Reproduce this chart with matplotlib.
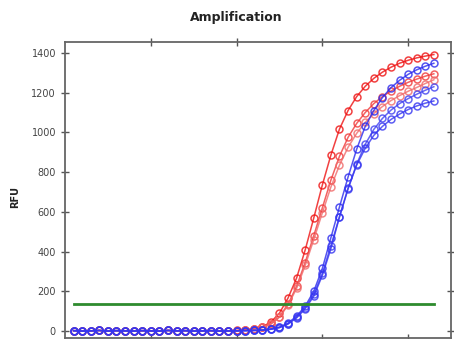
import numpy as np
import matplotlib
matplotlib.use("Agg")
import matplotlib.pyplot as plt

# --------------------------------------------
# DATA
# --------------------------------------------
cycles = np.arange(1, 44)

base = [2, 0, 1, 3, 0, 2, 1, 0, 2, 1, 0, 3, 1, 2, 0, 1, 2, 0, 1]  # cycles 1..19

red_a = base + [3, 6, 12, 22, 45, 90, 166, 267, 408, 569, 735, 886, 1017,
                1110, 1180, 1232, 1272, 1303, 1328, 1348, 1363, 1375, 1384, 1392]
red_b = base + [2, 5, 10, 18, 36, 72, 135, 225, 345, 480, 620, 760, 880,
                975, 1045, 1100, 1145, 1180, 1208, 1232, 1252, 1268, 1283, 1295]
red_c = base + [2, 5, 10, 18, 35, 70, 130, 215, 330, 460, 595, 725, 835,
                925, 995, 1050, 1095, 1130, 1160, 1185, 1207, 1226, 1246, 1265]

blue_d = base + [1, 2, 3, 5, 10, 20, 40, 75, 125, 200, 315, 470, 625,
                 775, 915, 1030, 1110, 1175, 1225, 1262, 1292, 1315, 1333, 1348]
blue_e = base + [1, 2, 3, 5, 9, 18, 37, 70, 118, 185, 290, 430, 575,
                 715, 840, 940, 1015, 1070, 1112, 1145, 1170, 1192, 1212, 1230]
blue_f = base + [1, 2, 3, 5, 9, 17, 35, 66, 112, 175, 280, 415, 575,
                 720, 835, 920, 985, 1030, 1065, 1092, 1115, 1133, 1147, 1158]

threshold = 135

series = [
    (red_a, "#ee1111"),
    (red_b, "#f03a3a"),
    (red_c, "#f06a6a"),
    (blue_d, "#2a2aee"),
    (blue_e, "#4040f0"),
    (blue_f, "#3535f0"),
]

# --------------------------------------------
# PLOT
# --------------------------------------------
fig = plt.figure(figsize=(4.54, 3.39), dpi=100)
ax = fig.add_axes([65 / 454, 1 / 339, 386 / 454, 296 / 339])

for vals, col in series:
    ax.plot(cycles, vals, color=col, lw=1.1, marker="o", ms=5,
            mfc="none", mew=1.1, alpha=0.8)

ax.plot([cycles[0], cycles[-1]], [threshold, threshold],
        color="#2e8b2e", lw=2)

ax.set_xlim(0, 45)
ax.set_ylim(-35, 1455)
ax.set_xticks([10, 20, 30, 40])
ax.set_yticks(range(0, 1401, 200))
ax.tick_params(direction="inout", length=6, width=1, colors="#555555",
               labelsize=7, labelcolor="#444444", top=True, right=True)
ax.tick_params(axis="x", labelbottom=False)
for s in ax.spines.values():
    s.set_color("#666666")
    s.set_linewidth(1.3)

fig.text(236 / 454, 1 - 18 / 339, "Amplification", ha="center", va="center",
         fontsize=9, fontweight="bold", color="#222222")
fig.text(15 / 454, 1 - 197 / 339, "RFU", ha="center", va="center",
         rotation=90, fontsize=7, fontweight="bold", color="#222222")

fig.savefig("out.png", dpi=100)
